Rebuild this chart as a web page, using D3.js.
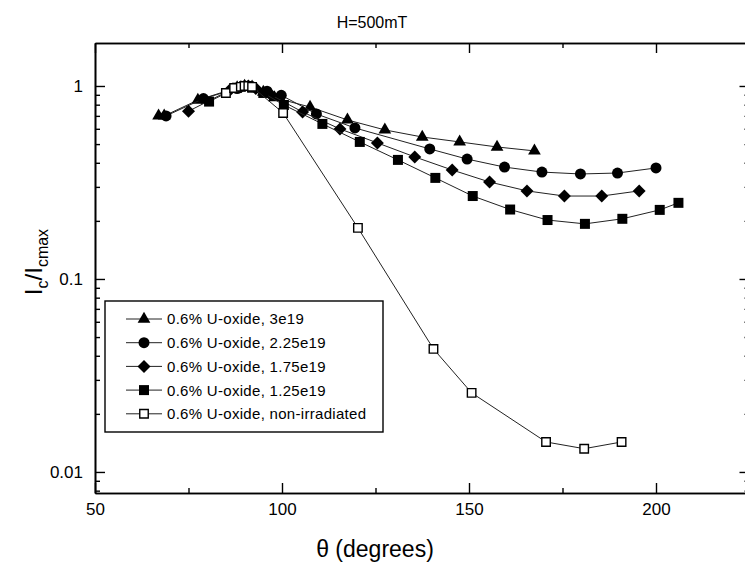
<!DOCTYPE html>
<html>
<head>
<meta charset="utf-8">
<script src="https://cdn.jsdelivr.net/npm/d3@7"></script>
<style>
  body { margin: 0; background: #fff; }
  svg { display: block; font-family: "Liberation Sans", Arial, sans-serif; }
</style>
</head>
<body>
<svg id="chart" width="745" height="564"></svg>
<script>
// ---- data (theta in degrees, Ic/Icmax) ----
const s3e19 = [[67,0.70],[68.5,0.70],[77.5,0.845],[88,0.98],[90,1.0],[92,0.99],[95,0.93],[98,0.87],
  [107.5,0.778],[117.5,0.667],[127.5,0.592],[137.5,0.544],[147.5,0.513],[157.5,0.483],[167.5,0.461]];
const s225e19 = [[69,0.70],[79,0.86],[88,0.97],[90,1.0],[92,0.99],[96,0.94],[99.8,0.895],
  [109.2,0.716],[119.5,0.606],[139.5,0.472],[149.5,0.418],[159.5,0.38],[169.5,0.358],[179.8,0.35],[189.7,0.354],[200,0.376]];
const s175e19 = [[75,0.74],[86,0.95],[89,0.99],[91,1.0],[93,0.97],[97,0.9],
  [105.5,0.733],[115.5,0.599],[125.5,0.507],[135.5,0.429],[145.5,0.367],[155.5,0.318],[165.5,0.286],[175.5,0.269],[185.5,0.269],[195.5,0.286]];
const s125e19 = [[80.5,0.83],[88,0.98],[90,1.0],[92,0.98],[95,0.92],[100.5,0.797],[110.8,0.636],[120.8,0.513],
  [131,0.414],[141,0.334],[151,0.269],[161,0.229],[171,0.202],[181,0.193],[191,0.205],[201,0.228],[206,0.248]];
const sNonIrr = [[85,0.92],[87.2,0.976],[89,0.99],[90,1.0],[91,1.0],[92,0.99],[100.3,0.725],[120.3,0.184],
  [140.5,0.0434],[150.7,0.0257],[170.6,0.0143],[180.8,0.0132],[190.8,0.0143]];

const seriesNames = ["0.6% U-oxide, 3e19","0.6% U-oxide, 2.25e19","0.6% U-oxide, 1.75e19","0.6% U-oxide, 1.25e19","0.6% U-oxide, non-irradiated"];
const seriesData = [s3e19, s225e19, s175e19, s125e19, sNonIrr];
const seriesMarker = ["triangle","circle","diamond","square","openSquare"];

const xMajor = [50,100,150,200], xMinor = [75,125,175,225];
const yMajor = [0.01,0.1,1];
const yMinor = [0.008,0.009,0.02,0.03,0.04,0.05,0.06,0.07,0.08,0.09,0.2,0.3,0.4,0.5,0.6,0.7,0.8,0.9];

// ---- layout ----
const L = 95, R = 749.5, T = 43, B = 493;
const svg = d3.select("#chart");
const x = d3.scaleLinear().domain([50,225]).range([L,R]);
const y = d3.scaleLog().domain([0.00778,1.67]).range([B,T]);

const markerPath = {
  triangle: d3.symbol(d3.symbolTriangle, 70)(),
  circle: d3.symbol(d3.symbolCircle, 95)(),
  diamond: d3.symbol(d3.symbolSquare, 84)(),
  square: d3.symbol(d3.symbolSquare, 100)(),
  openSquare: d3.symbol(d3.symbolSquare, 72)()
};
function drawMarker(g, type, cx, cy){
  const p = g.append("path").attr("d", markerPath[type]);
  if (type === "diamond") p.attr("transform", `translate(${cx},${cy}) rotate(45)`);
  else p.attr("transform", `translate(${cx},${cy})`);
  if (type === "openSquare") p.attr("fill","#fff").attr("stroke","#000").attr("stroke-width",1.4);
  else p.attr("fill","#000");
}

// ---- axes ----
const axStyle = g => {
  g.select(".domain").attr("stroke","#000").attr("stroke-width",1.6);
  g.selectAll(".tick line").attr("stroke","#000").attr("stroke-width",1.4);
  g.selectAll("text").attr("fill","#000").style("font-size","17px").style("font-family","'Liberation Sans', Arial, sans-serif");
};
svg.append("g").attr("transform",`translate(0,${B})`)
  .call(d3.axisBottom(x).tickValues(xMajor).tickSize(-10).tickPadding(10).tickSizeOuter(0).tickFormat(d3.format("d")))
  .call(axStyle);
svg.append("g").attr("transform",`translate(0,${B})`)
  .call(d3.axisBottom(x).tickValues(xMinor).tickSize(-5).tickSizeOuter(0).tickFormat(""))
  .call(axStyle);
svg.append("g").attr("transform",`translate(0,${T})`)
  .call(d3.axisTop(x).tickValues(xMajor).tickSize(-10).tickSizeOuter(0).tickFormat(""))
  .call(axStyle);
svg.append("g").attr("transform",`translate(0,${T})`)
  .call(d3.axisTop(x).tickValues(xMinor).tickSize(-5).tickSizeOuter(0).tickFormat(""))
  .call(axStyle);
svg.append("g").attr("transform",`translate(${L},0)`)
  .call(d3.axisLeft(y).tickValues(yMajor).tickSize(-10).tickPadding(12).tickSizeOuter(0).tickFormat(d => d3.format("")(d)))
  .call(axStyle);
svg.append("g").attr("transform",`translate(${L},0)`)
  .call(d3.axisLeft(y).tickValues(yMinor).tickSize(-5).tickSizeOuter(0).tickFormat(""))
  .call(axStyle);
svg.append("g").attr("transform",`translate(${R},0)`)
  .call(d3.axisRight(y).tickValues(yMajor).tickSize(-10).tickSizeOuter(0).tickFormat(""))
  .call(axStyle);
svg.append("g").attr("transform",`translate(${R},0)`)
  .call(d3.axisRight(y).tickValues(yMinor).tickSize(-5).tickSizeOuter(0).tickFormat(""))
  .call(axStyle);

// ---- series ----
const line = d3.line().x(d => x(d[0])).y(d => y(d[1]));
seriesData.forEach((data, i) => {
  const g = svg.append("g");
  g.append("path").datum(data).attr("d", line)
    .attr("fill","none").attr("stroke","#222").attr("stroke-width",1);
  data.forEach(d => drawMarker(g, seriesMarker[i], x(d[0]), y(d[1])));
});

// ---- legend ----
const leg = svg.append("g");
leg.append("rect").attr("x",105).attr("y",301).attr("width",278).attr("height",131)
  .attr("fill","#fff").attr("stroke","#000").attr("stroke-width",1.4);
seriesNames.forEach((name, i) => {
  const ly = 319 + i*23.7;
  leg.append("line").attr("x1",126).attr("x2",162).attr("y1",ly).attr("y2",ly)
    .attr("stroke","#222").attr("stroke-width",1);
  drawMarker(leg, seriesMarker[i], 144, ly);
  leg.append("text").attr("x",167).attr("y",ly).attr("dy","0.36em")
    .style("font-size","15px").style("letter-spacing","0.3px").attr("fill","#000").text(name);
});

// ---- titles ----
svg.append("text").attr("x",372).attr("y",28).attr("text-anchor","middle")
  .style("font-size","16px").text("H=500mT");
svg.append("text").attr("x",375).attr("y",557).attr("text-anchor","middle")
  .style("font-size","23px").text("θ (degrees)");
const yt = svg.append("text").attr("transform","translate(42,262) rotate(-90)")
  .attr("text-anchor","middle").style("font-size","24px");
yt.append("tspan").text("I");
yt.append("tspan").attr("dy",6).style("font-size","16px").text("c");
yt.append("tspan").attr("dy",-6).text("/I");
yt.append("tspan").attr("dy",6).style("font-size","16px").text("cmax");
</script>
</body>
</html>
